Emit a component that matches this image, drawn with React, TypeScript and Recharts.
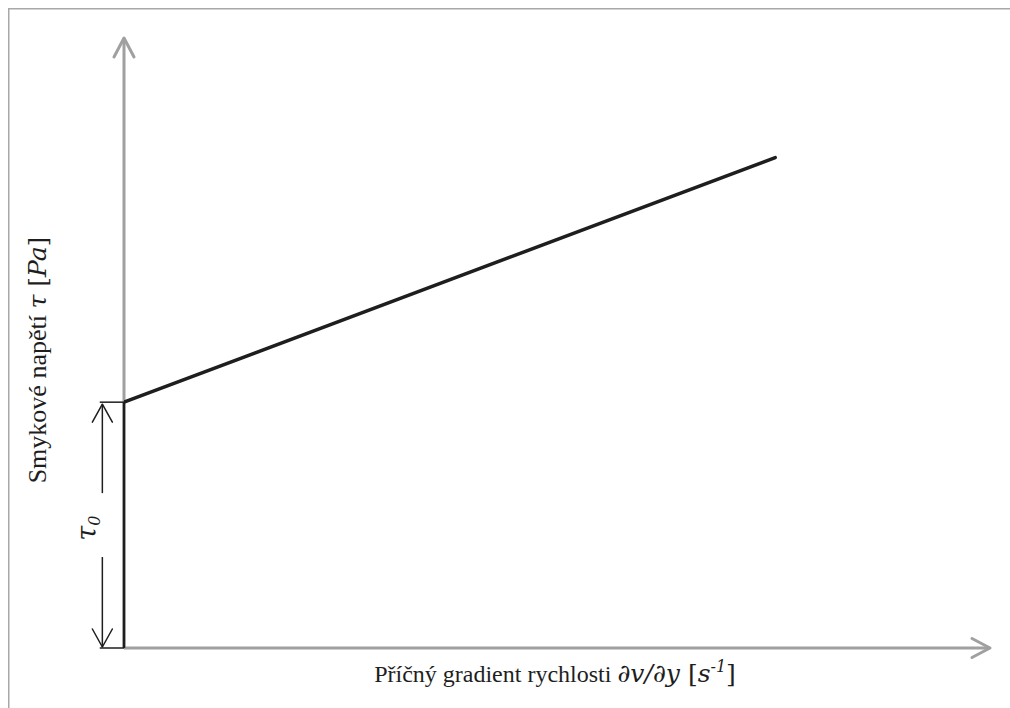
import React from 'react';
import { LineChart, Line, XAxis, YAxis, ReferenceLine } from 'recharts';

// ---- data (abstract Bingham plastic diagram) ----
const shearRate = [0, 75.2];          // dv/dy
const shearStress = [40.3, 80.4];     // tau
const yieldStress = 40.3;             // tau_0
const xDomain: [number, number] = [0, 100];
const yDomain: [number, number] = [0, 100];
const bracketX = -2.5;                // position of tau_0 dimension arrows
const tickLeft = -2.8;                // left end of tau_0 extension ticks

const data = shearRate.map((x, i) => ({ x, y: shearStress[i] }));

// ---- layout / style ----
const W = 1010;
const H = 708;
const M = { top: 38, right: 20, bottom: 60, left: 124 };
const AXIS_GRAY = '#a0a0a0';
const BORDER_GRAY = '#a8a8a8';
const INK = '#1e1e1e';
const SERIF = '"Liberation Serif", "Times New Roman", serif';
const MATH = '"DejaVu Serif", serif';

function arrowShape(color: string, width: number, head = 19, half = 10) {
  return (p: any) => {
    const { x1, y1, x2, y2 } = p;
    const dx = x2 - x1;
    const dy = y2 - y1;
    const len = Math.hypot(dx, dy) || 1;
    const ux = dx / len;
    const uy = dy / len;
    const bx = x2 - ux * head;
    const by = y2 - uy * head;
    const px = -uy;
    const py = ux;
    return (
      <g>
        <line x1={x1} y1={y1} x2={x2} y2={y2} stroke={color} strokeWidth={width} />
        <polyline
          points={`${bx + px * half},${by + py * half} ${x2},${y2} ${bx - px * half},${by - py * half}`}
          fill="none"
          stroke={color}
          strokeWidth={width}
          strokeLinecap="round"
          strokeLinejoin="round"
        />
      </g>
    );
  };
}

const TauBracket = (p: any) => {
  const { x1, y1, y2 } = p;
  const x = x1;
  const top = Math.min(y1, y2);
  const bottom = Math.max(y1, y2);
  const h = bottom - top;
  const upperFrom = top + h * 0.37;
  const lowerFrom = top + h * 0.63;
  const mid = (top + bottom) / 2 + 3;
  const arrow = arrowShape(INK, 1.5, 18, 10);
  const tx = x - 6;
  return (
    <g>
      {arrow({ x1: x, y1: upperFrom, x2: x, y2: top + 2 })}
      {arrow({ x1: x, y1: lowerFrom, x2: x, y2: bottom - 1 })}
      <text
        x={tx}
        y={mid}
        transform={`rotate(-90, ${tx}, ${mid})`}
        textAnchor="middle"
        fill={INK}
        fontFamily={MATH}
      >
        <tspan fontStyle="italic" fontSize={27}>τ</tspan>
        <tspan fontStyle="italic" fontSize={16} dy={4}>0</tspan>
      </text>
    </g>
  );
};

export default function App() {
  const yLabelX = 46;
  const yLabelY = 360;
  const xLabelX = 555;
  const xLabelY = 682;
  return (
    <div style={{ width: W, height: H, overflow: 'hidden', background: '#fff' }}>
      <style>{`html,body{margin:0;padding:0;overflow:hidden;background:#fff;}`}</style>
      <LineChart width={W} height={H} data={data} margin={M}>
        <XAxis type="number" dataKey="x" domain={xDomain} hide allowDataOverflow />
        <YAxis type="number" dataKey="y" domain={yDomain} hide allowDataOverflow />

        {/* frame (top & left only) */}
        <rect x={990} y={0} width={W - 990} height={H} fill="#fff" />
        <line x1={8} y1={8.75} x2={W} y2={8.75} stroke={BORDER_GRAY} strokeWidth={1.5} />
        <line x1={8.75} y1={8} x2={8.75} y2={H} stroke={BORDER_GRAY} strokeWidth={1.5} />

        {/* axes with arrows */}
        <ReferenceLine
          segment={[{ x: xDomain[0], y: yDomain[0] }, { x: xDomain[1], y: yDomain[0] }]}
          ifOverflow="visible"
          shape={arrowShape(AXIS_GRAY, 3, 18, 9.5)}
        />
        <ReferenceLine
          segment={[{ x: xDomain[0], y: yDomain[0] }, { x: xDomain[0], y: yDomain[1] }]}
          ifOverflow="visible"
          shape={arrowShape(AXIS_GRAY, 3, 19, 10)}
        />

        {/* yield stress vertical & extension ticks */}
        <ReferenceLine
          segment={[{ x: 0, y: 0 }, { x: 0, y: yieldStress }]}
          ifOverflow="visible"
          stroke={INK}
          strokeWidth={2.5}
        />
        <ReferenceLine
          segment={[{ x: tickLeft, y: yieldStress }, { x: 0, y: yieldStress }]}
          ifOverflow="visible"
          stroke={INK}
          strokeWidth={1.5}
        />
        <ReferenceLine
          segment={[{ x: tickLeft, y: 0 }, { x: 0, y: 0 }]}
          ifOverflow="visible"
          stroke={INK}
          strokeWidth={1.5}
        />
        <ReferenceLine
          segment={[{ x: bracketX, y: 0 }, { x: bracketX, y: yieldStress }]}
          ifOverflow="visible"
          shape={TauBracket}
        />

        <Line
          type="linear"
          dataKey="y"
          stroke={INK}
          strokeWidth={3.5}
          strokeLinecap="round"
          dot={false}
          activeDot={false}
          isAnimationActive={false}
        />

        {/* axis titles */}
        <text
          x={yLabelX}
          y={yLabelY}
          transform={`rotate(-90, ${yLabelX}, ${yLabelY})`}
          textAnchor="middle"
          fontFamily={SERIF}
          fontSize={26}
          fill={INK}
        >
          Smykové napětí{' '}
          <tspan fontFamily={MATH} fontSize={25}>
            <tspan fontStyle="italic">τ</tspan> [<tspan fontStyle="italic">Pa</tspan>]
          </tspan>
        </text>
        <text
          x={xLabelX}
          y={xLabelY}
          textAnchor="middle"
          fontFamily={SERIF}
          fontSize={24}
          fill={INK}
        >
          Příčný gradient rychlosti{' '}
          <tspan fontFamily={MATH} fontSize={25}>
            <tspan fontStyle="italic">∂v/∂y</tspan> [<tspan fontStyle="italic">s</tspan>
            <tspan fontStyle="italic" fontSize={16} dy={-10}>-1</tspan>
            <tspan dy={10}>]</tspan>
          </tspan>
        </text>
      </LineChart>
    </div>
  );
}
